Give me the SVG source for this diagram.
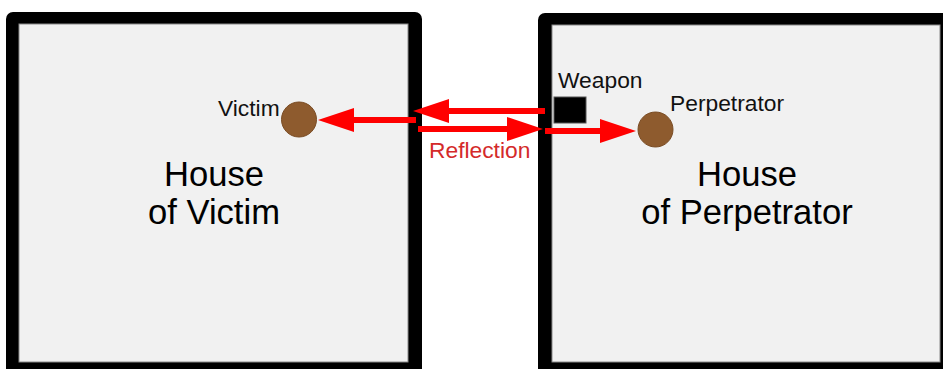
<svg xmlns="http://www.w3.org/2000/svg" width="943" height="369" viewBox="0 0 943 369">
<defs>
<style>
.wall{fill:#000}
.floor{fill:#f1f1f1;stroke:#8a8a8a;stroke-width:1}
.lbl{font-family:"Liberation Sans",Arial,sans-serif;font-size:22.8px;fill:#111}
.house{font-family:"Liberation Sans",Arial,sans-serif;font-size:34.6px;fill:#000;text-anchor:middle}
.refl{font-family:"Liberation Sans",Arial,sans-serif;font-size:22.8px;fill:#d42a2a}
.person{fill:#8e5b2e;stroke:#7a4c24;stroke-width:1}
.ray{stroke:#ff0000;stroke-width:6;fill:none;marker-end:url(#head)}
</style>
<marker id="head" viewBox="0 0 36 24" markerWidth="36" markerHeight="24" refX="8" refY="12" orient="auto" markerUnits="userSpaceOnUse">
<path d="M0,0 L36,12 L0,24 Z" fill="#ff0000"/>
</marker>
</defs>
<rect x="0" y="0" width="943" height="369" fill="#fff"/>
<g id="house-victim">
<rect class="wall" x="6" y="12" width="416" height="380" rx="7"/>
<rect class="floor" x="19" y="24" width="389" height="338"/>
<text class="house" x="214" y="186">House</text>
<text class="house" x="214" y="224">of Victim</text>
</g>
<g id="house-perpetrator">
<rect class="wall" x="538" y="13" width="420" height="380" rx="7"/>
<rect class="floor" x="552" y="25" width="388" height="337"/>
<text class="house" x="747" y="186">House</text>
<text class="house" x="747" y="224">of Perpetrator</text>
</g>
<g id="victim">
<circle class="person" cx="299" cy="119.5" r="17.5"/>
<text class="lbl" x="218" y="116">Victim</text>
</g>
<g id="perpetrator">
<circle class="person" cx="655.5" cy="129.5" r="17.5"/>
<text class="lbl" x="670" y="111">Perpetrator</text>
</g>
<g id="weapon">
<rect x="554" y="97" width="32" height="26" fill="#000" stroke="#555" stroke-width="1"/>
<text class="lbl" x="558" y="88">Weapon</text>
</g>
<g id="connectors">
<line class="ray" x1="545" y1="111" x2="441" y2="111"/>
<line class="ray" x1="416" y1="120" x2="346" y2="120"/>
<line class="ray" x1="418" y1="129" x2="515" y2="129"/>
<line class="ray" x1="545" y1="131" x2="608" y2="131"/>
<text class="refl" x="429" y="158">Reflection</text>
</g>
</svg>
